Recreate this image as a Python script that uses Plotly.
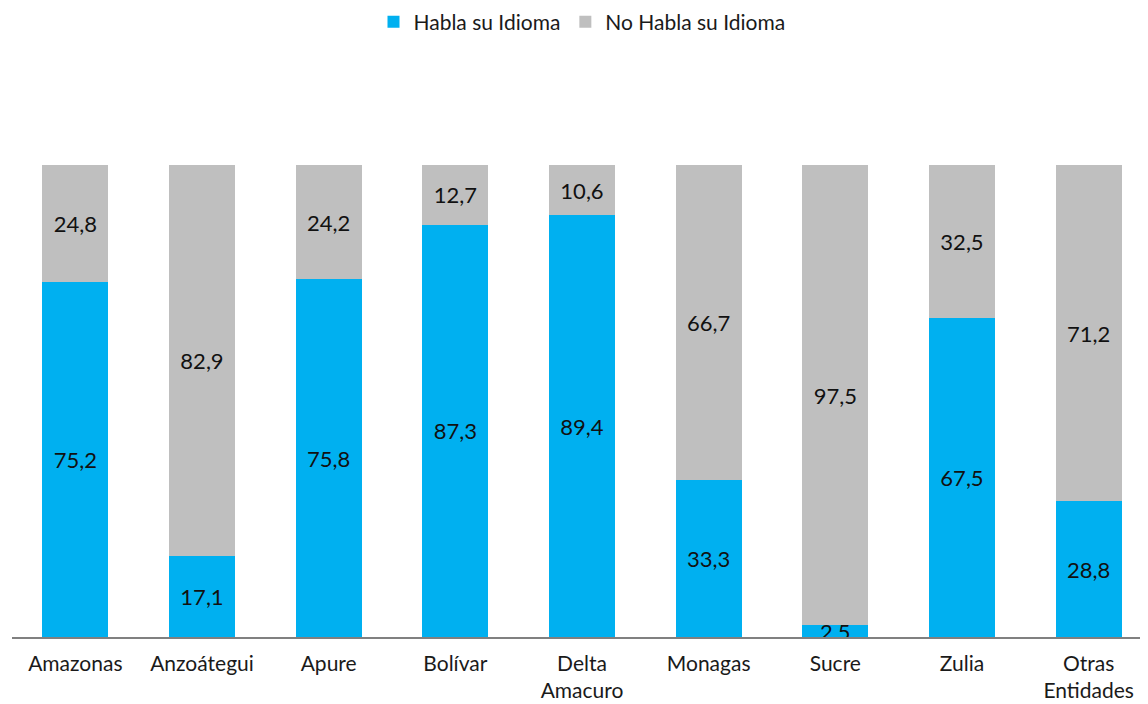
import plotly.graph_objects as go

categories = ["Amazonas", "Anzoátegui", "Apure", "Bolívar", "Delta<br>Amacuro",
              "Monagas", "Sucre", "Zulia", "Otras<br>Entidades"]
habla = [75.2, 17.1, 75.8, 87.3, 89.4, 33.3, 2.5, 67.5, 28.8]
no_habla = [24.8, 82.9, 24.2, 12.7, 10.6, 66.7, 97.5, 32.5, 71.2]

def fmt(v):
    return f"{v:.1f}".replace(".", ",")

font_family = "Lato, Noto Sans, sans-serif"

fig = go.Figure()
fig.add_trace(go.Bar(
    x=categories, y=habla, name="Habla su Idioma",
    marker=dict(color="#00B0F0", line=dict(width=0)),
    text=[fmt(v) for v in habla], textposition="inside",
    insidetextanchor="middle", textangle=0,
    textfont=dict(color="#111111", size=22, family=font_family),
))
fig.add_trace(go.Bar(
    x=categories, y=no_habla, name="No Habla su Idioma",
    marker=dict(color="#BFBFBF", line=dict(width=0)),
    text=[fmt(v) for v in no_habla], textposition="inside",
    insidetextanchor="middle", textangle=0,
    textfont=dict(color="#111111", size=22, family=font_family),
))

fig.update_layout(
    barmode="stack",
    bargap=0.48,
    width=1148, height=704,
    paper_bgcolor="white", plot_bgcolor="white",
    margin=dict(l=4, r=4, t=157, b=75, autoexpand=False),
    font=dict(family=font_family, size=21, color="#1a1a1a"),
    uniformtext=dict(minsize=22, mode="show"),
    legend=dict(orientation="h", x=0.5, xanchor="center", y=1.303, yanchor="middle",
                font=dict(size=21), traceorder="normal"),
    showlegend=True,
)
fig.update_xaxes(showline=True, linecolor="#808080", linewidth=1.5, ticks="",
                 tickfont=dict(size=21), showgrid=False, automargin=False,
                 ticklabelstandoff=7)
fig.update_yaxes(range=[0, 100], visible=False, showgrid=False, automargin=False)

fig.write_html("out.html")
